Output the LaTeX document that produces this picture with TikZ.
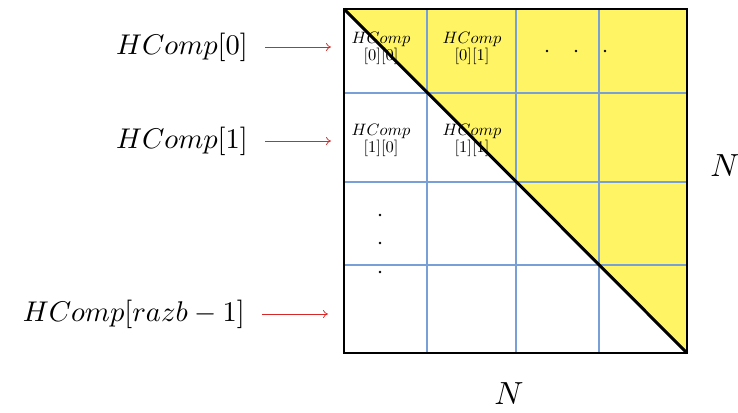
\documentclass[tikz,border=0pt]{standalone}
\usepackage{graphicx}
\usetikzlibrary{arrows.meta}
\definecolor{gridblue}{RGB}{120,160,215}
\definecolor{fillyellow}{RGB}{255,245,100}
\definecolor{arrred}{RGB}{215,40,40}
\newcommand{\biglab}[1]{\scalebox{2.85}{$#1$}}
\newcommand{\celltxt}[1]{\scalebox{1.65}{\begin{tabular}{@{}c@{}}$HComp$\\[-1.5pt]#1\end{tabular}}}
\newcommand{\dimlab}{\scalebox{3.2}{$N$}}
\tikzset{
  biglabel/.style={anchor=east,inner sep=0pt},
  celltext/.style={inner sep=0pt},
  ptr/.style={draw=arrred,line width=0.7pt,-{To[length=5pt,width=8pt]}},
  gridline/.style={draw=gridblue,line width=1.05pt},
  dimlabel/.style={inner sep=0pt},
  dotmark/.style={circle,fill=black,inner sep=0pt,minimum size=2.8pt}
}
\begin{document}
\begin{tikzpicture}[x=1pt,y=-1pt]
\useasboundingbox (0,0) rectangle (738,412);
% corners of the matrix
\coordinate (tl) at (344,9);
\coordinate (tr) at (687,9);
\coordinate (br) at (687,353);
\coordinate (bl) at (344,353);
% upper triangle
\fill[fillyellow] (tl) -- (tr) -- (br) -- cycle;
% grid
\foreach \x in {427,516,599} \draw[gridline] (\x,9) -- (\x,353);
\foreach \y in {93,182,265} \draw[gridline] (344,\y) -- (687,\y);
% diagonal and border
\draw[line width=3pt] (tl) -- (br);
\draw[line width=2.8pt] (tl) rectangle (br);
% cell texts
\node[celltext] (c00) at (381,48) {\celltxt{[0][0]}};
\node[celltext] (c01) at (472,48) {\celltxt{[0][1]}};
\node[celltext] (c10) at (381,140) {\celltxt{[1][0]}};
\node[celltext] (c11) at (472,140) {\celltxt{[1][1]}};
% dots
\node[dotmark] (h1) at (547,51) {};
\node[dotmark] (h2) at (576,51) {};
\node[dotmark] (h3) at (605,51) {};
\node[dotmark] (v1) at (380,215) {};
\node[dotmark] (v2) at (380,243) {};
\node[dotmark] (v3) at (380,272) {};
% row labels
\node[biglabel] (l0) at (248,47) {\biglab{HComp[0]}};
\node[biglabel] (l1) at (248,141) {\biglab{HComp[1]}};
\node[biglabel] (l2) at (245,314) {\biglab{HComp[razb-1]}};
\coordinate (a0) at (331,47);
\coordinate (a1) at (331,141);
\coordinate (a2) at (328,314);
\draw[ptr] ([xshift=17pt]l0.east) -- (a0);
\draw[ptr] ([xshift=17pt]l1.east) -- (a1);
\draw[ptr] ([xshift=17pt]l2.east) -- (a2);
% dimension labels
\node[dimlabel] (nr) at (725,166) {\dimlab};
\node[dimlabel] (nb) at (509,394) {\dimlab};
\end{tikzpicture}
\end{document}
